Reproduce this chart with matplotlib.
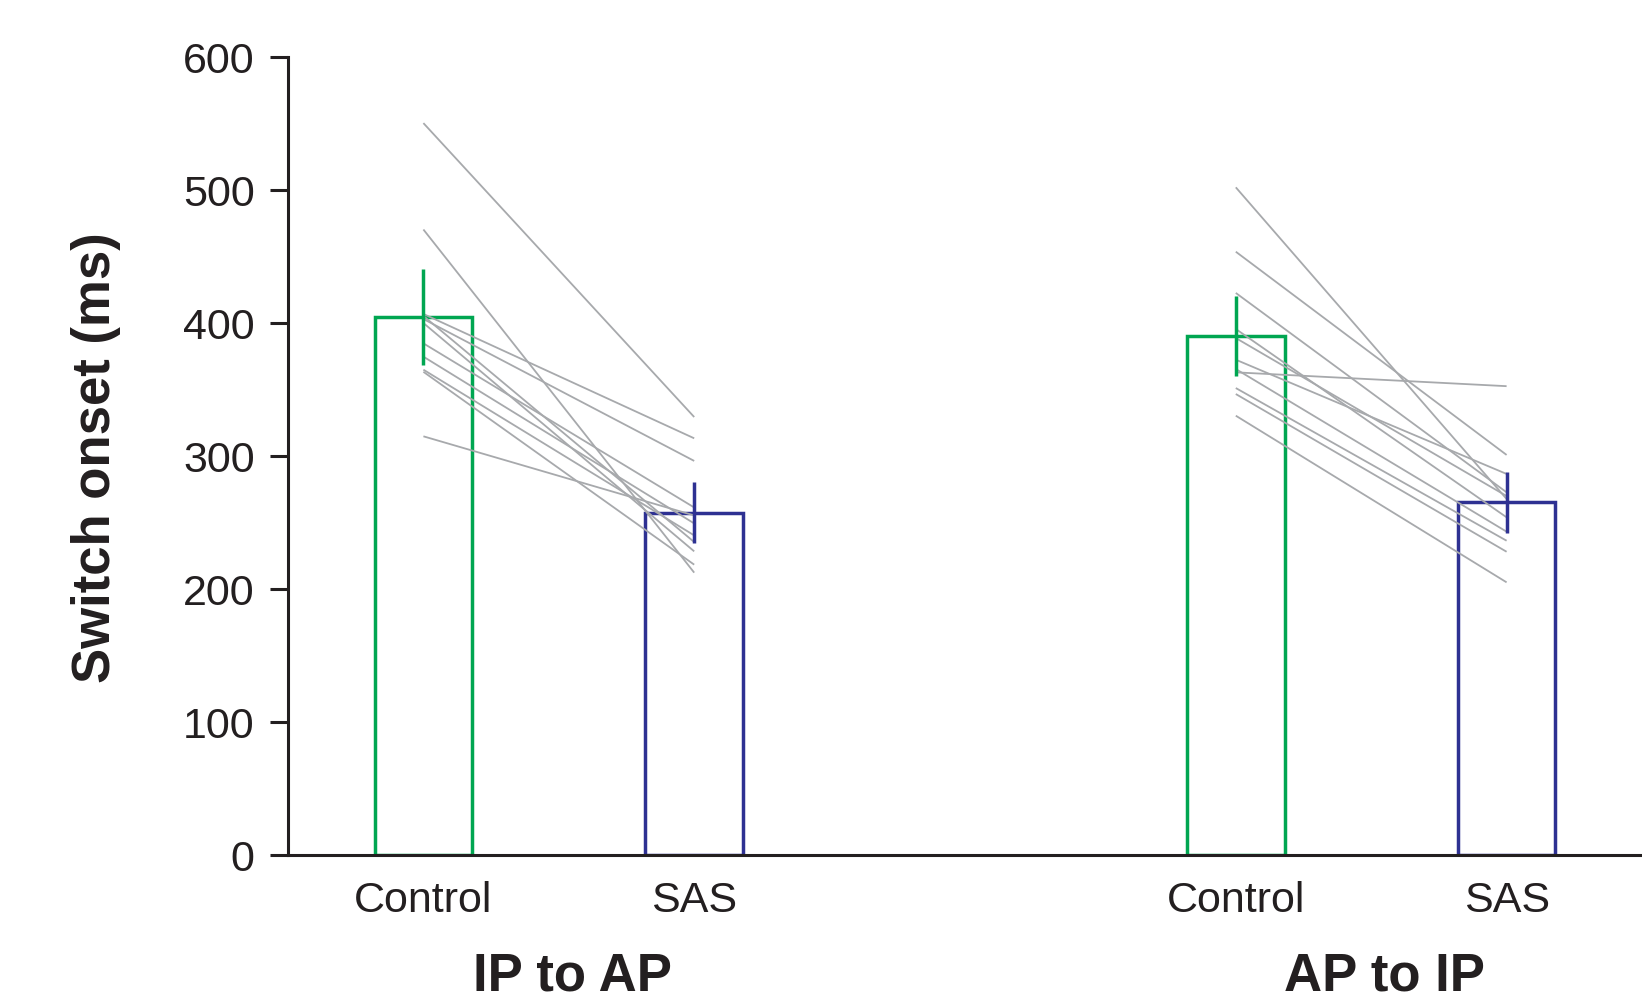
import matplotlib
matplotlib.use("Agg")
import matplotlib.pyplot as plt
from matplotlib.transforms import blended_transform_factory

# ---- data ----
groups = ["IP to AP", "AP to IP"]
conditions = ["Control", "SAS"]
bar_means_control = [404, 390]
bar_means_sas = [257, 265]
err_control = [36, 30]
err_sas = [23, 23]

ip_ap_control = [550, 470, 406.5, 405, 402.7, 399.7, 384.4, 374.4, 364.6, 363, 314.5]
ip_ap_sas = [329, 212, 313, 235, 296, 228, 261, 249, 240, 218, 255]
ap_ip_control = [501.7, 453.3, 422.3, 395.2, 388.4, 372.1, 365.1, 362.6, 350.8, 346.3, 330.0]
ap_ip_sas = [267.4, 300.5, 272.4, 253.6, 269.6, 286.2, 242.8, 352.2, 236.0, 227.7, 204.7]

yticks = [0, 100, 200, 300, 400, 500, 600]

# ---- style ----
GREEN = "#00A651"
BLUE = "#2E3192"
GRAY = "#A7A9AC"
plt.rcParams["font.family"] = ["Liberation Sans", "DejaVu Sans"]

fig = plt.figure(figsize=(16.42, 9.95), dpi=100)
ax = fig.add_axes([288 / 1642, 139.4 / 995, 1 - 288 / 1642, 798 / 995])

group_pos = [0.0, 3.0]
offset = 1.0
width = 0.36

subjects = [(ip_ap_control, ip_ap_sas), (ap_ip_control, ap_ip_sas)]

for gi, g0 in enumerate(group_pos):
    xc, xs = g0, g0 + offset
    ax.bar(xc, bar_means_control[gi], width=width, facecolor="white",
           edgecolor=GREEN, linewidth=2.5, zorder=2)
    ax.bar(xs, bar_means_sas[gi], width=width, facecolor="white",
           edgecolor=BLUE, linewidth=2.5, zorder=2)
    c_vals, s_vals = subjects[gi]
    for cv, sv in zip(c_vals, s_vals):
        ax.plot([xc, xs], [cv, sv], color=GRAY, linewidth=1.3, zorder=3,
                solid_capstyle="butt")
    ax.vlines(xc, bar_means_control[gi] - err_control[gi],
              bar_means_control[gi] + err_control[gi], color=GREEN,
              linewidth=2.5, zorder=4)
    ax.vlines(xs, bar_means_sas[gi] - err_sas[gi],
              bar_means_sas[gi] + err_sas[gi], color=BLUE,
              linewidth=2.5, zorder=4)

ax.set_xlim(-0.5, 4.5)
ax.set_ylim(0, 600)
ax.set_yticks(yticks)
ax.set_yticklabels([str(t) for t in yticks])

xt = []
xl = []
for g0 in group_pos:
    xt += [g0, g0 + offset]
    xl += conditions
ax.set_xticks(xt)
ax.set_xticklabels(xl)

for s in ["top", "right"]:
    ax.spines[s].set_visible(False)
for s in ["left", "bottom"]:
    ax.spines[s].set_linewidth(2.2)
    ax.spines[s].set_color("#231F20")
    ax.spines[s].set_zorder(5)

ax.tick_params(axis="y", direction="out", length=13, width=2.2,
               labelsize=31, pad=11, colors="#231F20")
ax.tick_params(axis="x", length=0, labelsize=31, pad=18, colors="#231F20")

trans = blended_transform_factory(ax.transData, fig.transFigure)
for g0, name in zip(group_pos, groups):
    ax.text(g0 + 0.55, 4 / 995, name, transform=trans, ha="center",
            va="baseline", fontsize=38, fontweight="bold", color="#231F20")

fig.text(96 / 1642, (995 - 458) / 995, "Switch onset (ms)", rotation=90,
         ha="center", va="center", fontsize=38, fontweight="bold",
         color="#231F20")

fig.savefig("out.png", dpi=100)
